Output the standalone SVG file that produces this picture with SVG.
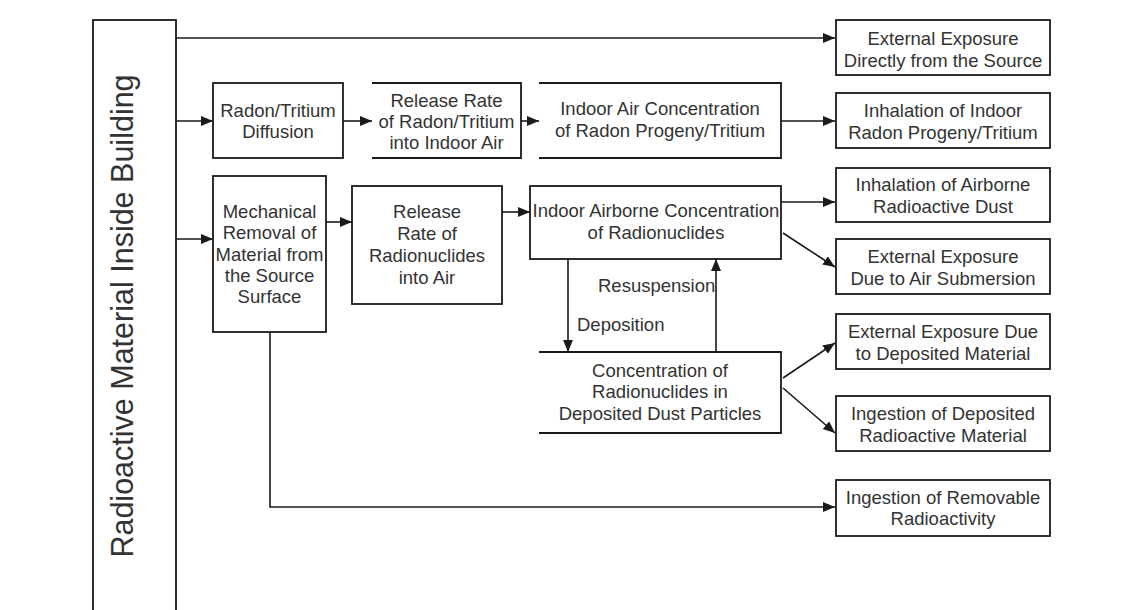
<svg xmlns="http://www.w3.org/2000/svg" width="1138" height="610" viewBox="0 0 1138 610">
<defs>
<marker id="ah" markerUnits="userSpaceOnUse" markerWidth="13" markerHeight="11" refX="12" refY="5" orient="auto">
<path d="M0,0 L12,5 L0,10 z" fill="#1a1a1a"/>
</marker>
<style>
.b{fill:#fff;stroke:#1a1a1a;stroke-width:1.8}
.o{fill:none;stroke:#1a1a1a;stroke-width:1.8}
.c{fill:none;stroke:#1a1a1a;stroke-width:1.6;marker-end:url(#ah)}
text{font-family:"Liberation Sans",Arial,sans-serif;font-size:18.5px;fill:#333;text-anchor:middle}
.lab{text-anchor:start}
.title{font-size:30.5px}
</style>
</defs>
<rect width="1138" height="610" fill="#fff"/>
<g id="source">
<rect class="b" x="93" y="20" width="83" height="600"/>
<text class="title" x="133" y="316" transform="rotate(-90 133 316)">Radioactive Material Inside Building</text>
</g>
<g id="diffusion">
<rect class="b" x="213" y="83" width="130" height="75"/>
<text x="278" y="117">Radon/Tritium</text>
<text x="278" y="138">Diffusion</text>
</g>
<g id="releaseRadon">
<path class="o" d="M372,83 H521 V158 H372"/>
<text x="446.5" y="107">Release Rate</text>
<text x="446.5" y="128">of Radon/Tritium</text>
<text x="446.5" y="149">into Indoor Air</text>
</g>
<g id="indoorAirConc">
<path class="o" d="M539,83 H781 V158 H539"/>
<text x="660" y="115">Indoor Air Concentration</text>
<text x="660" y="137">of Radon Progeny/Tritium</text>
</g>
<g id="mechanical">
<rect class="b" x="213" y="176" width="113" height="156"/>
<text x="269.5" y="218">Mechanical</text>
<text x="269.5" y="239">Removal of</text>
<text x="269.5" y="261">Material from</text>
<text x="269.5" y="282">the Source</text>
<text x="269.5" y="303">Surface</text>
</g>
<g id="releaseRadionuclides">
<rect class="b" x="352" y="186" width="150" height="118"/>
<text x="427" y="218">Release</text>
<text x="427" y="240">Rate of</text>
<text x="427" y="262">Radionuclides</text>
<text x="427" y="284">into Air</text>
</g>
<g id="airborneConc">
<rect class="b" x="530" y="186" width="251" height="73"/>
<text x="656" y="217">Indoor Airborne Concentration</text>
<text x="656" y="239">of Radionuclides</text>
</g>
<g id="depositedConc">
<path class="o" d="M539,352 H781 V433 H539"/>
<text x="660" y="377">Concentration of</text>
<text x="660" y="398">Radionuclides in</text>
<text x="660" y="420">Deposited Dust Particles</text>
</g>
<g id="extDirect">
<rect class="b" x="836" y="20" width="214" height="55"/>
<text x="943" y="45">External Exposure</text>
<text x="943" y="67">Directly from the Source</text>
</g>
<g id="inhRadon">
<rect class="b" x="836" y="93" width="214" height="55"/>
<text x="943" y="117">Inhalation of Indoor</text>
<text x="943" y="139">Radon Progeny/Tritium</text>
</g>
<g id="inhDust">
<rect class="b" x="836" y="168" width="214" height="54"/>
<text x="943" y="191">Inhalation of Airborne</text>
<text x="943" y="213">Radioactive Dust</text>
</g>
<g id="extAir">
<rect class="b" x="836" y="239" width="214" height="55"/>
<text x="943" y="263">External Exposure</text>
<text x="943" y="285">Due to Air Submersion</text>
</g>
<g id="extDeposited">
<rect class="b" x="836" y="314" width="214" height="55"/>
<text x="943" y="338">External Exposure Due</text>
<text x="943" y="360">to Deposited Material</text>
</g>
<g id="ingDeposited">
<rect class="b" x="836" y="396" width="214" height="55"/>
<text x="943" y="420">Ingestion of Deposited</text>
<text x="943" y="442">Radioactive Material</text>
</g>
<g id="ingRemovable">
<rect class="b" x="836" y="480" width="214" height="56"/>
<text x="943" y="504">Ingestion of Removable</text>
<text x="943" y="525">Radioactivity</text>
</g>
<g id="connectors">
<path class="c" d="M176,38 H835"/>
<path class="c" d="M176,121 H213"/>
<path class="c" d="M176,239 H213"/>
<path class="c" d="M343,121 H372"/>
<path class="c" d="M521,121 H539"/>
<path class="c" d="M781,121 H835"/>
<path class="c" d="M326,222 H352"/>
<path class="c" d="M502,212 H530"/>
<path class="c" d="M781,202 H835"/>
<path class="c" d="M783,233 L835,267"/>
<path class="c" d="M568,259 V352"/>
<path class="c" d="M716,352 V259"/>
<path class="c" d="M783,378 L835,343"/>
<path class="c" d="M783,388 L835,433"/>
<path class="c" d="M270,332 V507 H835"/>
<text class="lab" x="598" y="292">Resuspension</text>
<text class="lab" x="577" y="331">Deposition</text>
</g>
</svg>
